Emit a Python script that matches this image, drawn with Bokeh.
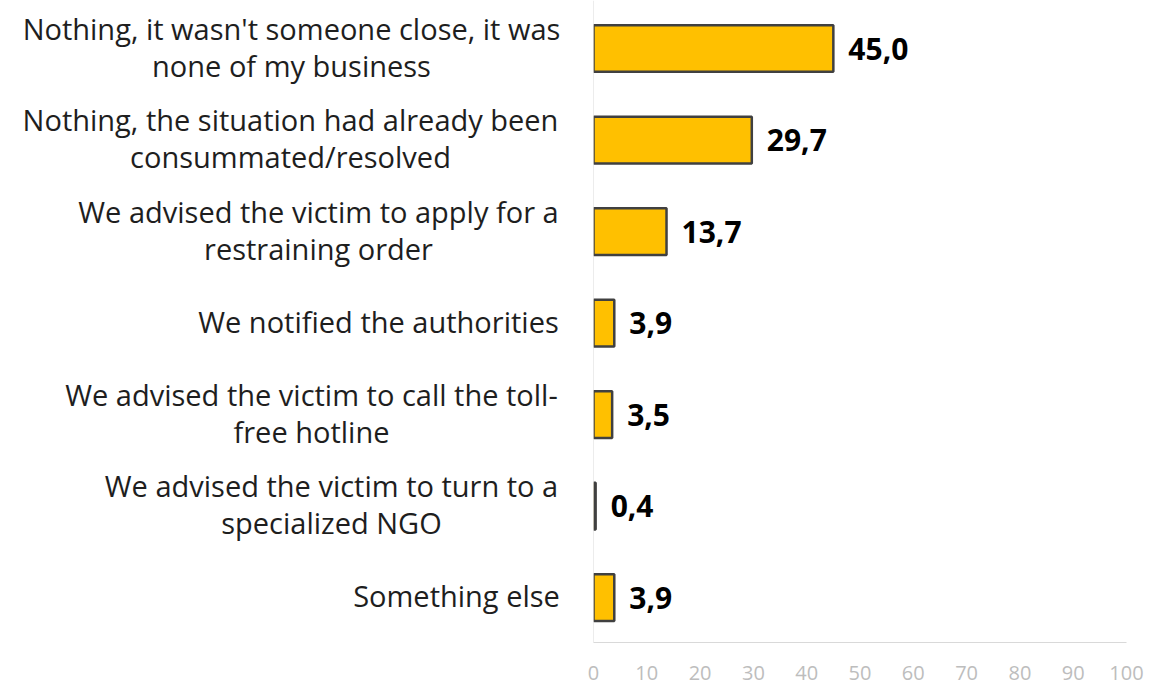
from bokeh.plotting import figure
from bokeh.layouts import row
from bokeh.models import ColumnDataSource, Range1d, FixedTicker, Span
from bokeh.embed import file_html
from bokeh.resources import INLINE
from bokeh.core.properties import value

categories = [
    "Nothing, it wasn't someone close, it was\nnone of my business",
    "Nothing, the situation had already been\nconsummated/resolved",
    "We advised the victim to apply for a\nrestraining order",
    "We notified the authorities",
    "We advised the victim to call the toll-\nfree hotline",
    "We advised the victim to turn to a\nspecialized NGO",
    "Something else",
]
values = [45.0, 29.7, 13.7, 3.9, 3.5, 0.4, 3.9]
x_ticks = [0, 10, 20, 30, 40, 50, 60, 70, 80, 90, 100]

# horizontal centre (px in the label panel) of each centred category label
label_centers = [291, 290, 318, 378, 311, 331, 456]

FONT = "Open Sans"
n = len(categories)
pos = [n - 1 - i for i in range(n)]
val_labels = [f"{v:.1f}".replace(".", ",") for v in values]

src = ColumnDataSource(dict(y=pos, v=values, lab=val_labels))
lab_src = ColumnDataSource(dict(y=pos, x=label_centers, t=categories))

y_range = Range1d(-0.491, 6.525)
FRAME_H = 642
BOTTOM = 42
LABEL_W = 583
GAP = 10

# ---- label panel ----
pl = figure(
    frame_width=LABEL_W, frame_height=FRAME_H,
    min_border_left=0, min_border_right=0, min_border_top=0, min_border_bottom=BOTTOM,
    x_range=Range1d(0, LABEL_W), y_range=y_range,
    output_backend="svg", toolbar_location=None,
)
pl.outline_line_color = None
pl.axis.visible = False
pl.grid.visible = False
pl.text(x="x", y="y", text="t", source=lab_src, y_offset=-2,
        text_align="center", text_baseline="middle",
        text_font=value(FONT), text_font_size="29px", text_color="#1e1e1e",
        text_line_height=0.95)

# ---- chart panel ----
p = figure(
    frame_width=533, frame_height=FRAME_H,
    min_border_left=GAP, min_border_right=28, min_border_top=0, min_border_bottom=BOTTOM,
    x_range=Range1d(0, 100), y_range=y_range,
    output_backend="svg", toolbar_location=None,
)
p.outline_line_color = None
p.grid.visible = False
p.yaxis.visible = False

p.add_layout(Span(location=0, dimension="height", line_color="#d9d9d9", line_width=1))

p.hbar(y="y", right="v", left=0, height=0.51, source=src,
       fill_color="#FFC000", line_color="#404040", line_width=2.5)

p.text(x="v", y="y", text="lab", source=src, x_offset=15,
       text_baseline="middle", text_align="left",
       text_font=value(FONT), text_font_style="bold", text_font_size="30px",
       text_color="#000000")

xa = p.xaxis[0]
xa.ticker = FixedTicker(ticks=x_ticks)
xa.axis_line_color = "#d9d9d9"
xa.axis_line_width = 1
xa.major_tick_line_color = None
xa.minor_tick_line_color = None
xa.major_label_text_font = FONT
xa.major_label_text_font_size = "20px"
xa.major_label_text_color = "#bdbdbd"
xa.major_label_standoff = 17

layout = row(pl, p)
open("out.html", "w").write(file_html(layout, INLINE))
